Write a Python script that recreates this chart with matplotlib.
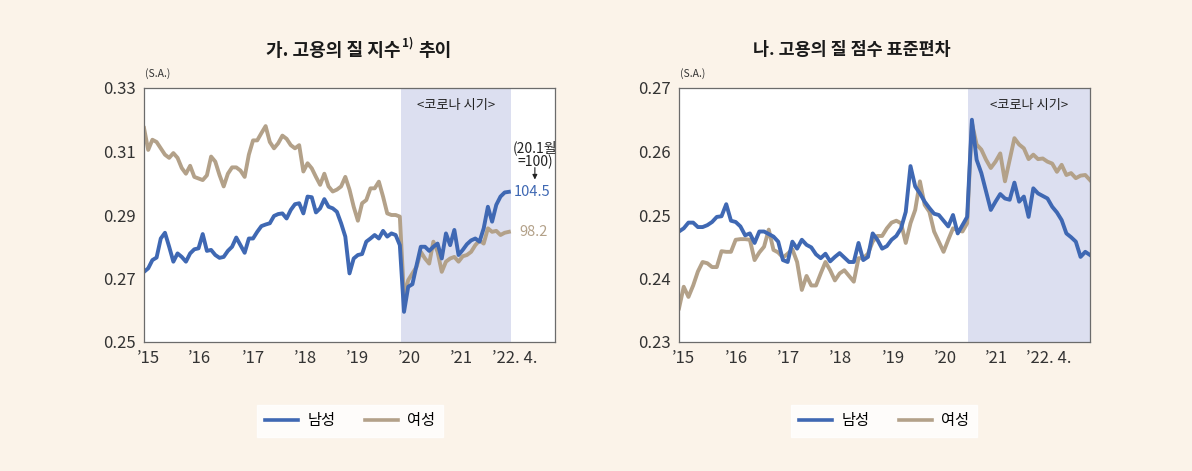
import numpy as np
import matplotlib
matplotlib.use("Agg")
from matplotlib import pyplot as plt
from matplotlib.lines import Line2D

plt.rcParams['font.family'] = ['Noto Sans CJK KR', 'DejaVu Sans']

# monthly, 2015.1 ~ 2022.4
months = np.arange(88)

# 가. 고용의 질 지수
male_idx = [0.2721, 0.2732, 0.2758, 0.2766, 0.2826, 0.2844, 0.2800, 0.2753, 0.2779, 0.2768,
            0.2753, 0.2779, 0.2792, 0.2795, 0.2840, 0.2787, 0.2790, 0.2774, 0.2765, 0.2768,
            0.2787, 0.2800, 0.2829, 0.2805, 0.2781, 0.2826, 0.2826, 0.2847, 0.2865, 0.2870,
            0.2874, 0.2897, 0.2903, 0.2905, 0.2889, 0.2916, 0.2934, 0.2937, 0.2905, 0.2958,
            0.2956, 0.2908, 0.2921, 0.2950, 0.2926, 0.2921, 0.2910, 0.2874, 0.2832, 0.2716,
            0.2763, 0.2774, 0.2777, 0.2816, 0.2826, 0.2837, 0.2826, 0.2850, 0.2832, 0.2842,
            0.2837, 0.2805, 0.2595, 0.2674, 0.2682, 0.2742, 0.2800, 0.2800, 0.2787, 0.2800,
            0.2810, 0.2763, 0.2842, 0.2805, 0.2853, 0.2774, 0.2790, 0.2808, 0.2820, 0.2826,
            0.2816, 0.2858, 0.2926, 0.2879, 0.2932, 0.2958, 0.2971, 0.2973]
female_idx = [0.3174, 0.3105, 0.3137, 0.3130, 0.3110, 0.3090, 0.3080, 0.3095, 0.3080, 0.3048,
              0.3030, 0.3055, 0.3020, 0.3015, 0.3010, 0.3025, 0.3084, 0.3068, 0.3026, 0.2990,
              0.3030, 0.3050, 0.3050, 0.3040, 0.3020, 0.3090, 0.3135, 0.3135, 0.3158, 0.3180,
              0.3130, 0.3110, 0.3126, 0.3150, 0.3140, 0.3120, 0.3110, 0.3120, 0.3037, 0.3063,
              0.3047, 0.3020, 0.2995, 0.3030, 0.2990, 0.2974, 0.2980, 0.2990, 0.3020, 0.2980,
              0.2926, 0.2882, 0.2937, 0.2947, 0.2984, 0.2984, 0.3005, 0.2958, 0.2905, 0.2900,
              0.2900, 0.2895, 0.2642, 0.2695, 0.2716, 0.2737, 0.2784, 0.2763, 0.2747, 0.2816,
              0.2784, 0.2721, 0.2753, 0.2763, 0.2768, 0.2753, 0.2770, 0.2774, 0.2784, 0.2805,
              0.2820, 0.2810, 0.2858, 0.2847, 0.2850, 0.2837, 0.2844, 0.2847]

# 나. 고용의 질 점수 표준편차
male_sd = [0.2474, 0.2479, 0.2488, 0.2488, 0.2481, 0.2481, 0.2484, 0.2489, 0.2497, 0.2498,
           0.2517, 0.2491, 0.2489, 0.2482, 0.2468, 0.2471, 0.2456, 0.2474, 0.2474, 0.2470,
           0.2466, 0.2458, 0.2429, 0.2426, 0.2458, 0.2447, 0.2461, 0.2453, 0.2449, 0.2438,
           0.2432, 0.2439, 0.2427, 0.2434, 0.2440, 0.2433, 0.2426, 0.2426, 0.2456, 0.2429,
           0.2434, 0.2471, 0.2461, 0.2447, 0.2451, 0.2461, 0.2467, 0.2479, 0.2505, 0.2577,
           0.2545, 0.2534, 0.2521, 0.2511, 0.2502, 0.2500, 0.2491, 0.2482, 0.2500, 0.2471,
           0.2484, 0.2497, 0.2650, 0.2587, 0.2566, 0.2537, 0.2508, 0.2521, 0.2533, 0.2526,
           0.2524, 0.2551, 0.2521, 0.2529, 0.2497, 0.2542, 0.2534, 0.2530, 0.2526, 0.2513,
           0.2504, 0.2492, 0.2471, 0.2465, 0.2458, 0.2434, 0.2442, 0.2437]
female_sd = [0.2353, 0.2387, 0.2371, 0.2389, 0.2411, 0.2426, 0.2424, 0.2418, 0.2418, 0.2443,
             0.2442, 0.2442, 0.2461, 0.2462, 0.2462, 0.2461, 0.2429, 0.2441, 0.2450, 0.2477,
             0.2445, 0.2441, 0.2433, 0.2439, 0.2446, 0.2426, 0.2382, 0.2404, 0.2389, 0.2389,
             0.2408, 0.2426, 0.2413, 0.2397, 0.2408, 0.2413, 0.2404, 0.2395, 0.2432, 0.2432,
             0.2439, 0.2458, 0.2467, 0.2467, 0.2479, 0.2488, 0.2491, 0.2487, 0.2456, 0.2487,
             0.2508, 0.2553, 0.2516, 0.2505, 0.2474, 0.2458, 0.2442, 0.2461, 0.2479, 0.2476,
             0.2474, 0.2487, 0.2645, 0.2611, 0.2603, 0.2587, 0.2574, 0.2584, 0.2597, 0.2553,
             0.2587, 0.2621, 0.2611, 0.2605, 0.2588, 0.2595, 0.2588, 0.2589, 0.2584, 0.2581,
             0.2568, 0.2579, 0.2563, 0.2566, 0.2558, 0.2562, 0.2563, 0.2555]

year_labels = ['’15', '’16', '’17', '’18', '’19', '’20', '’21', '’22. 4.']
left_tick_pos = [0.95, 13.3, 26.0, 38.4, 50.8, 63.2, 75.8, 88.4]
right_tick_pos = [0.85, 12.1, 23.1, 34.1, 45.3, 56.3, 67.3, 78.3]
covid_start = 61.2

BG = '#FBF3E9'
BLUE = '#3F68B3'
TAN = '#B3A189'
SHADE = '#DCDFF0'
W, H = 1192, 471

fig = plt.figure(figsize=(W / 100, H / 100), dpi=100, facecolor=BG)


def px(x, y):
    return x / W, 1 - y / H


def make_axes(x0, x1, y0, y1):
    ax = fig.add_axes([x0 / W, 1 - y1 / H, (x1 - x0) / W, (y1 - y0) / H])
    ax.set_facecolor('white')
    for s in ax.spines.values():
        s.set_color('#6b6b6b')
        s.set_linewidth(0.9)
    ax.tick_params(length=0, labelsize=12, colors='#333333', pad=6)
    return ax


# left panel
ax1 = make_axes(144, 555, 88, 342)
ax1.axvspan(covid_start, 87.5, color=SHADE, lw=0)
ax1.plot(months, female_idx, color=TAN, lw=2.8, solid_joinstyle='round')
ax1.plot(months, male_idx, color=BLUE, lw=2.8, solid_joinstyle='round')
ax1.set_xlim(0, 98)
ax1.set_ylim(0.25, 0.33)
ax1.set_yticks([0.25, 0.27, 0.29, 0.31, 0.33])
ax1.set_yticklabels(['0.25', '0.27', '0.29', '0.31', '0.33'])
ax1.set_xticks(left_tick_pos)
ax1.set_xticklabels(year_labels)
ax1.text((covid_start + 87.5) / 2, 0.3245, '<코로나 시기>', ha='center', va='center', fontsize=9.5,
         color='#222222')
ax1.text(93.2, 0.3090, '(20.1월\n=100)', ha='center', va='center', fontsize=10, linespacing=0.95,
         color='#222222')
ax1.annotate('', xy=(93.2, 0.3003), xytext=(93.2, 0.3058),
             arrowprops=dict(arrowstyle='-|>', color='#222222', lw=0.8, mutation_scale=7))
ax1.text(88.2, male_idx[-1], '104.5', ha='left', va='center', fontsize=10.5, color=BLUE)
ax1.text(89.5, female_idx[-1], '98.2', ha='left', va='center', fontsize=10.5, color=TAN)

# right panel
ax2 = make_axes(679, 1090, 88, 342)
ax2.axvspan(covid_start, 87, color=SHADE, lw=0)
ax2.plot(months, female_sd, color=TAN, lw=2.8, solid_joinstyle='round')
ax2.plot(months, male_sd, color=BLUE, lw=2.8, solid_joinstyle='round')
ax2.set_xlim(0, 87)
ax2.set_ylim(0.23, 0.27)
ax2.set_yticks([0.23, 0.24, 0.25, 0.26, 0.27])
ax2.set_yticklabels(['0.23', '0.24', '0.25', '0.26', '0.27'])
ax2.set_xticks(right_tick_pos)
ax2.set_xticklabels(year_labels)
ax2.text((covid_start + 87) / 2, 0.26725, '<코로나 시기>', ha='center', va='center', fontsize=9.5,
         color='#222222')

# (S.A.) labels
fig.text(*px(145, 74), '(S.A.)', fontsize=7.5, color='#333333', va='center', ha='left')
fig.text(*px(680, 74), '(S.A.)', fontsize=7.5, color='#333333', va='center', ha='left')

# titles
fig.text(*px(400, 50), '가. 고용의 질 지수', fontsize=13, fontweight='bold', ha='right', va='center',
         color='#1a1a1a')
fig.text(*px(402, 43), '1)', fontsize=8.5, fontweight='bold', ha='left', va='center', color='#1a1a1a')
fig.text(*px(418, 50), '추이', fontsize=13, fontweight='bold', ha='left', va='center', color='#1a1a1a')
fig.text(*px(852, 50), '나. 고용의 질 점수 표준편차', fontsize=12.5, fontweight='bold', ha='center',
         va='center', color='#1a1a1a')

# legends
handles = [Line2D([], [], color=BLUE, lw=2.6), Line2D([], [], color=TAN, lw=2.6)]
for cx in (350, 884):
    leg = fig.legend(handles, ['남성', '여성'], loc='center', bbox_to_anchor=px(cx, 421), ncol=2,
                     frameon=True, fancybox=False, fontsize=11, handlelength=2.2, columnspacing=1.9,
                     borderpad=0.5, handletextpad=0.6, borderaxespad=0)
    leg.get_frame().set_facecolor('white')
    leg.get_frame().set_edgecolor('white')

fig.savefig('out.png', dpi=100, facecolor=BG)
